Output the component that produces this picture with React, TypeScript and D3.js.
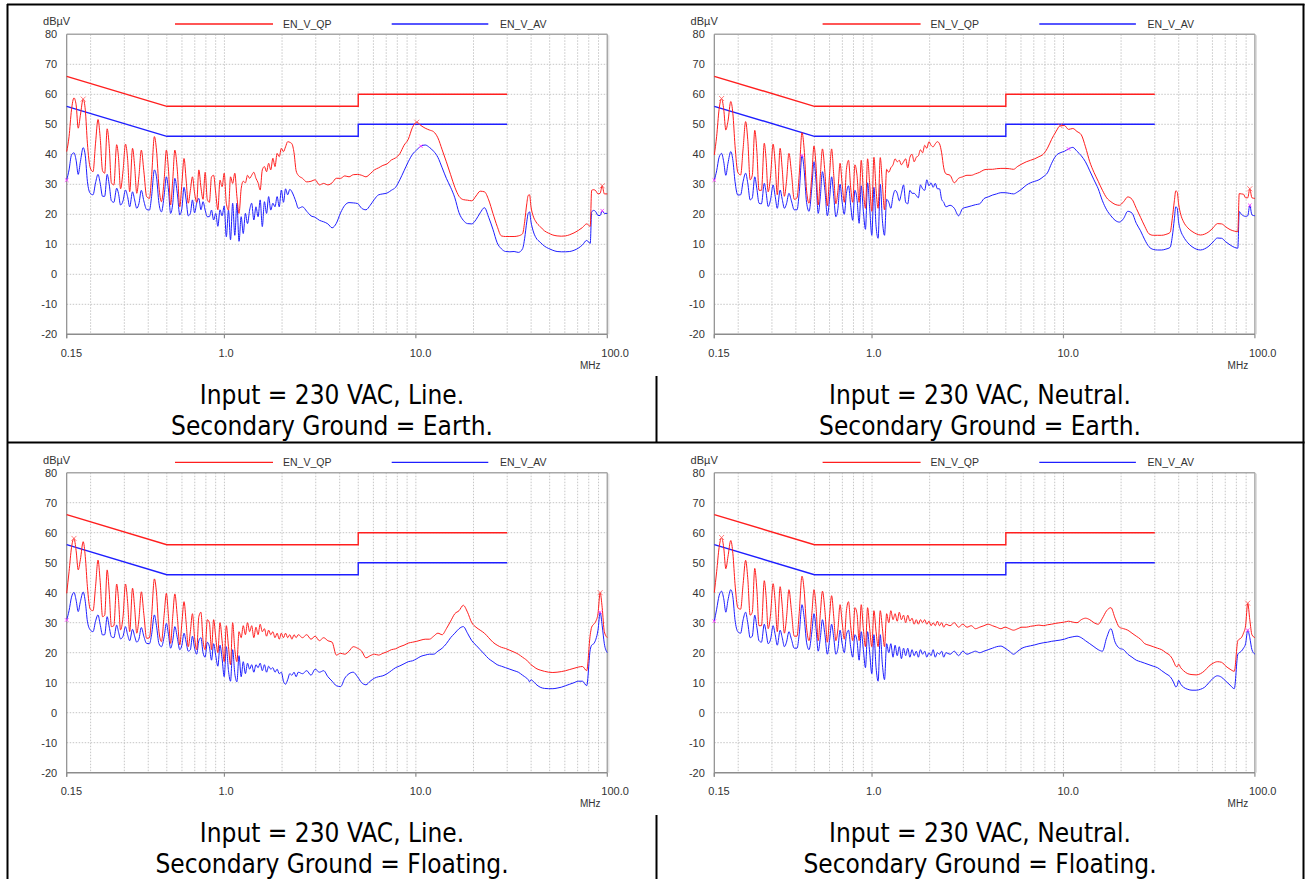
import React from "react";
import * as d3 from "d3";

// Shared frequency axis (MHz) for all measured traces
const FREQ_MHZ = [
  0.15, 0.1543, 0.1589, 0.1637, 0.168, 0.1723, 0.1768, 0.1829, 0.1876, 0.1924, 0.1991, 0.2059, 0.2122, 0.2186, 0.2242, 0.2309, 0.2369, 0.244, 0.2503, 0.2568, 0.2645, 0.2736, 0.2795, 0.2867, 0.2954, 0.3042, 0.312, 0.32, 0.3311, 0.3396, 0.3484, 0.3574, 0.3681, 0.3792, 0.3923, 0.4058, 0.4163, 0.4306, 0.4417, 0.455, 0.4688, 0.4849, 0.4974, 0.5102, 0.5234, 0.537, 0.5508, 0.5674, 0.5845, 0.5996, 0.6151, 0.631, 0.6473,
  0.6638, 0.6808, 0.6984, 0.7164, 0.735, 0.7538, 0.7733, 0.7931, 0.8137, 0.8346, 0.8562, 0.8782, 0.9009, 0.9241, 0.948, 0.9723, 0.9975, 1.023, 1.05, 1.076, 1.104, 1.133, 1.162, 1.192, 1.223, 1.254, 1.287, 1.32, 1.354, 1.388, 1.424, 1.461, 1.499, 1.537, 1.577, 1.618, 1.66, 1.702, 1.746, 1.791, 1.837, 1.885, 1.933, 1.983, 2.034, 2.086, 2.14, 2.195, 2.252, 2.31, 2.369, 2.431,
  2.557, 2.691, 2.831, 2.979, 3.134, 3.299, 3.47, 3.652, 3.842, 4.043, 4.254, 4.476, 4.71, 4.955, 5.214, 5.486, 5.773, 6.074, 6.391, 6.725, 7.076, 7.445, 7.834, 8.243, 8.674, 9.126, 9.605, 10.11, 10.63, 11.19, 11.77, 12.39, 13.03, 13.72, 14.43, 15.19, 15.98, 16.81, 17.69, 18.61, 19.59, 20.61, 21.68, 22.81, 24.01, 25.27, 26.59, 27.97, 29.43, 30.98, 32.59, 34.29, 36.08,
  37.01, 37.96, 38.61, 39.27, 39.94, 40.97, 42.39,
  44.6, 46.93, 49.37, 51.95, 54.66, 57.52, 60.52, 63.68, 67.0, 70.5, 74.18, 78.05, 81.44,
  82.84, 84.97, 87.17, 89.41, 91.72, 94.05, 96.49, 100,
];

// Top-left: Line, Earth
const TL_QP = [
  40.9, 45.9, 54.8, 58.8, 56.5, 48.7, 53.0, 58.4, 54.8, 43.7, 35.5, 34.2, 43.7, 51.6, 45.9, 34.5, 33.7, 48.5, 42.5, 30.5, 29.8, 43.2, 39.2, 28.5, 34.5, 43.4, 38.5, 27.5, 42.0, 36.0, 27.0, 32.5, 41.4, 34.5, 25.9, 25.3, 32.5, 45.9, 41.4, 29.2, 24.2, 32.0, 41.4, 34.8, 23.1, 31.4, 41.4, 34.8, 22.5, 30.3, 38.6, 31.4, 23.7,
  28, 32.5, 27, 24, 34.8, 29, 25, 34, 25, 24, 32.5, 33, 27, 21.5, 31.4, 29.2, 33.7, 23.7, 21.4, 32.5, 30.3, 33.7, 25.9, 20.3, 28.5, 31, 30.5, 33, 32, 33, 34, 32, 30.5, 28.1, 34.8, 35.9, 34.2, 37, 34.8, 38.7, 35.9, 40.3, 39.2, 42, 40.9, 42.5, 44.2, 44, 43.5, 40.5, 34.5, 33,
  32, 30.8, 31, 31.5, 29.8, 30.3, 29.8, 30.5, 32, 32, 32.8, 32.5, 33.2, 33.3, 33, 32.5, 33.5, 34.8, 35.5, 36.3, 36.8, 38.1, 38.8, 40.2, 43, 45, 49, 50.7, 49.6, 48.7, 48.1, 47.5, 45.5, 41.5, 37.5, 33.2, 29, 26, 24.9, 24.7, 24.5, 26.1, 27.7, 27.5, 24.8, 20.3, 16, 12.8, 12.6, 12.6, 12.6, 12.8, 13.5,
  17.5, 23.5, 26.3, 26.5, 22.5, 19.5, 17.5,
  15.9, 14.5, 13.7, 13.1, 12.8, 12.7, 12.8, 13.2, 13.8, 14.6, 15.6, 16.8, 16,
  28, 28.2, 27.8, 26.8, 27, 29.5, 26.8, 26.8,
];
const TL_AV = [
  31.4, 34.8, 39.8, 40.5, 38.0, 33.3, 37.5, 42.2, 39.5, 31.0, 27.0, 26.5, 30.5, 33.3, 30.5, 26.0, 26.0, 33.3, 29.8, 24.5, 24.0, 28.7, 27.0, 23.1, 24.5, 28.1, 25.9, 22.5, 27.5, 24.8, 22.0, 23.5, 28.0, 24.5, 21.6, 21.4, 25.9, 34.8, 32.5, 23.7, 20.8, 26.5, 32.5, 28.1, 20.3, 23.5, 32.0, 27.0, 19.8, 22.0, 29.0, 24.8, 19.5,
  20.3, 24.8, 20.5, 23.7, 25.3, 21.5, 24.2, 21.4, 19.2, 19.2, 21.4, 18.1, 20.3, 16.0, 21.5, 19.5, 22.8, 12.5, 21.4, 11.5, 23.7, 13.0, 23.7, 11.0, 19.2, 13.6, 20.3, 16.9, 21.4, 23.7, 18.1, 22.5, 19.2, 24.8, 15.9, 24.2, 20.3, 25.9, 21.4, 23.7, 22.5, 25.9, 22.5, 28.1, 24.0, 28.5, 26.5, 28.3, 27.5, 25.9, 24.0, 22.0,
  22.5, 21.0, 19.5, 19.0, 18.0, 17.5, 16.8, 15.5, 17.0, 20.5, 23.0, 23.9, 23.8, 23.6, 22.0, 21.5, 23.0, 25.0, 26.5, 26.8, 27.1, 28.0, 29.0, 31.5, 34.5, 37.5, 40.0, 41.5, 42.7, 43.1, 42.3, 41.0, 39.0, 35.5, 32.0, 29.0, 25.5, 20.5, 18.0, 16.9, 16.8, 18.2, 20.5, 22.2, 19.0, 15.0, 10.5, 8.5, 7.6, 7.5, 7.6, 7.3, 8.5,
  12.0, 17.5, 20.3, 20.8, 17.5, 14.5, 12.2,
  10.7, 9.4, 8.6, 8.0, 7.6, 7.5, 7.5, 7.6, 8.0, 8.7, 9.8, 11.3, 10.3,
  20.8, 21.3, 20.8, 19.6, 19.6, 21.2, 20.3, 20.3,
];

// Top-right: Neutral, Earth
const TR_QP = [
  39.8, 46, 55, 58.6, 55.0, 48.1, 51, 57.6, 53.5, 43, 34.0, 33.1, 42, 50.9, 45, 31.5, 33, 48, 41, 28, 28, 43.7, 38.5, 27.5, 33, 43.4, 37, 26.5, 42, 35, 26, 31, 40.3, 34, 25, 25.5, 33, 47.2, 42, 28, 23.7, 33, 42.8, 36, 23.1, 33, 41.8, 34, 22.8, 33, 41.8, 33, 23.5,
  28, 37, 30, 24, 35, 38, 29, 24, 36.5, 33, 24, 38, 28, 22, 38.5, 30, 21, 39, 28, 22, 38.9, 30, 21.5, 35, 34, 35.5, 36.5, 38.5, 37.5, 38, 36.5, 37.5, 38.5, 35.5, 39, 40, 37.5, 39, 39.5, 41.5, 40.5, 43, 42, 44.2, 43, 42.5, 43.5, 44.2, 43.5, 40.5, 35.5, 33.5,
  33, 30.5, 32, 32.5, 33, 33, 33.5, 34, 34.8, 35, 35, 35.2, 35.3, 35.3, 35.2, 35, 36, 36.8, 37.5, 38, 38.5, 39.2, 40, 42, 45, 47.5, 49.5, 49.6, 48.3, 48.6, 47.6, 46.5, 42.5, 37.5, 34.0, 31, 28.0, 25.5, 24.2, 23.3, 23.0, 24.2, 25.8, 25.0, 22.0, 19.0, 16.0, 13.5, 13.0, 13.0, 13.0, 13.3, 14.0,
  18.5, 24.5, 27.8, 27.5, 23.5, 20.0, 17.5,
  15.5, 14.3, 13.5, 13.1, 13.4, 14.2, 15.5, 16.9, 16.8, 15.8, 14.9, 14.4, 14.2,
  26.9, 26.8, 26.7, 25.5, 25.5, 28.5, 25.5, 25.3,
];
const TR_AV = [
  31.4, 34.5, 39, 40.3, 37.5, 33.0, 37.0, 40.9, 38, 31, 26.4, 26.5, 31, 33.7, 30.5, 24.8, 25.5, 32.5, 28.5, 23.7, 23.5, 30.3, 27.5, 22.6, 25, 29.8, 26, 22, 28.1, 25, 22, 23.5, 27, 24.5, 21.5, 21.5, 27, 39.6, 35, 24, 21, 29, 37.5, 31, 20.3, 26, 34.2, 28, 19.5, 25, 32.5, 26, 19.2,
  22, 30, 24, 20, 27, 29.5, 23, 18, 28, 25, 17, 29.5, 21, 15, 30.5, 22, 13, 29, 16, 12, 30, 18, 13, 25, 24, 22, 26, 28, 27, 24.5, 27, 29.8, 24, 23.5, 28, 27, 27, 26.3, 25.5, 29.8, 28.5, 28, 31.5, 29.5, 30.5, 29, 30.3, 28.5, 28.5, 25, 24, 22.5,
  23, 22, 19.5, 22, 22.4, 22.8, 23.2, 23.5, 25.2, 25.8, 26.4, 26.8, 27.2, 27.2, 27, 26.8, 27.5, 28.5, 29.7, 30.5, 31.0, 31.5, 32.5, 33.8, 37.0, 39.5, 40.5, 41.0, 41.8, 42.3, 41.0, 39.5, 37.5, 34.5, 31.5, 28.5, 24.5, 21.5, 19.5, 18.0, 17.4, 18.6, 21.0, 20.4, 17.0, 14.5, 11.5, 9.2, 8.3, 8.1, 8.1, 8.4, 9.0,
  12.5, 18.5, 22.5, 22.0, 17.5, 14.5, 12.5,
  10.5, 9.2, 8.4, 8.1, 8.5, 9.4, 10.8, 12.1, 12.0, 10.8, 9.8, 9.0, 8.7,
  20.9, 20.0, 19.5, 19.3, 19.5, 23.0, 19.8, 19.5,
];

// Bottom-left: Line, Floating
const BL_QP = [
  39.8, 47, 55, 58.1, 54, 47.6, 51, 57.0, 52, 42, 34.5, 34, 42, 50.9, 44, 32, 32.5, 47.6, 40, 28.7, 29, 42.9, 38, 27.6, 32, 42.9, 37, 27, 41.5, 35, 26.5, 31, 40.3, 33, 24.8, 25, 32, 44.6, 40, 27, 23.7, 33, 39.8, 32, 23.1, 32, 39.6, 32, 22.6, 30, 37, 30, 22,
  27, 33, 25, 21, 32, 33.5, 24, 21, 31, 30, 21, 31, 25, 20, 30, 24, 17, 29, 22, 16, 30, 21, 17, 27, 25, 29, 26, 30, 27, 29, 25, 28.5, 26, 29.5, 27, 28, 25.5, 27.5, 26, 27, 25, 26.5, 24.5, 26.5, 25, 26.5, 25, 26, 24.5, 26, 25, 26,
  25, 26, 24.5, 25.5, 24, 25, 24, 23.5, 19.2, 19.8, 19.5, 20.5, 22, 21.5, 20.5, 18.3, 19, 19.5, 19.2, 19.8, 20.3, 21, 21.3, 22, 22.5, 23.2, 23.5, 23.8, 24.2, 24.5, 24.5, 25.5, 26.5, 26, 28, 30.5, 33, 34, 35.8, 33.5, 30, 28.5, 27.5, 26.5, 25, 23.5, 22.5, 21.8, 21.4, 20.8, 20.2, 19.5, 18.5,
  18, 17.5, 17, 16.5, 16, 15.5, 14.8,
  14.2, 13.8, 13.5, 13.4, 13.5, 13.7, 14, 14.4, 14.8, 15.2, 15.4, 14, 26,
  28.5, 29.5, 30.5, 33, 40, 35, 27, 25,
];
const BL_AV = [
  30.9, 34, 38.5, 40.1, 37.5, 33.7, 37, 40.2, 37, 30.5, 27.6, 27, 30.5, 32.6, 29.5, 25.9, 26, 32, 28.5, 25.3, 25, 29.2, 27, 24.6, 25.5, 28.7, 26, 24, 27.8, 25.5, 23.5, 24.5, 28.4, 25.5, 23.1, 23, 26, 32.6, 29, 23, 22, 25.5, 29.8, 26, 21.5, 24, 28.7, 25, 21, 22.5, 26.5, 23.5, 20.5,
  21, 25.5, 21.5, 19.5, 24, 25, 20, 18.5, 23.5, 22, 17.5, 23, 19, 15.5, 22.5, 18, 12, 22, 14, 10.5, 21, 13, 10.3, 19, 12, 17, 13, 16.5, 14.5, 16, 13.5, 16, 15, 16.5, 14, 16, 13.5, 15.5, 14.5, 15, 13.5, 14.5, 13, 13.5, 10.5, 9.5, 11, 13, 12.5, 13.5, 12, 13.5,
  13, 14, 12.5, 14.5, 13.5, 14, 12, 10.5, 9, 8.7, 11.5, 13, 13.5, 12, 10, 9.3, 10.5, 11.5, 12, 12.3, 13, 14, 15, 15.6, 16.3, 17, 17.3, 18, 18.8, 19.2, 19.5, 19.5, 20.5, 21.5, 23, 25, 26.5, 28, 28.7, 26.5, 24, 22.5, 21, 19.5, 18, 17, 16, 15.5, 15, 14.5, 14, 13.5, 12.5,
  12, 11.5, 11, 10.3, 11, 10.5, 9.5,
  8.5, 8.1, 8, 8, 8.2, 8.5, 9, 9.5, 10, 10.5, 10.5, 9, 21,
  22.5, 23, 24.5, 27.5, 33.5, 29, 23, 20,
];

// Bottom-right: Neutral, Floating
const BR_QP = [
  40, 47, 55, 58.4, 55, 48, 52, 57.4, 53, 43, 35, 34.5, 43, 50.8, 45, 32.5, 33.5, 48.1, 41, 29, 29, 44, 39, 28, 33, 43, 37, 27, 42, 35.5, 26.5, 31.5, 41, 34, 25.5, 25.5, 33, 45.5, 41, 28.5, 24, 33, 41, 35, 24, 33, 40.5, 34, 23.5, 32, 39, 32, 24,
  28, 36, 30, 24.5, 34, 37, 29, 24, 35, 33, 24, 36, 28, 22, 35, 28, 22, 34, 27, 22, 34, 28, 22, 33, 30, 34, 31, 33, 30.5, 33.5, 31, 32.5, 30, 32.5, 30.5, 31.5, 29.5, 31, 29.5, 31, 30, 31, 29.5, 30.5, 29, 30, 29, 30.5, 29, 30, 28.5, 29.5,
  29, 30, 28.5, 29.5, 28.5, 29, 28, 28.5, 29, 29.5, 29, 28.5, 28, 28.5, 28, 27.5, 28, 28.5, 28.5, 28.8, 29, 29.2, 29, 29.3, 29.5, 29.8, 30, 30.2, 30.5, 30.2, 30, 31, 31.5, 31, 30, 29.5, 31.5, 34, 35, 31.5, 28.5, 28, 27.5, 26.5, 25.5, 24.5, 23, 22.5, 22, 21.5, 21, 20, 19,
  18, 16.5, 15.5, 15.3, 16.2, 15, 14,
  13, 12.7, 12.6, 13, 14, 15.5, 16.5, 17, 16.8, 15.5, 14.5, 13.8, 24,
  24.5, 25, 26.5, 29, 36.5, 31, 26, 25,
];
const BR_AV = [
  30.5, 34.5, 39, 40.5, 38.0, 33.5, 37.5, 41, 38.5, 31, 27, 26.5, 31, 33.5, 30, 25, 25.5, 32.5, 28.5, 24, 23.5, 29.5, 27, 23, 24.5, 29, 26, 22.5, 27.5, 25, 22, 23.5, 27, 24.5, 21.5, 21.5, 26, 36, 32, 23.5, 21, 27, 33, 28, 20.5, 25, 31, 26, 19.5, 24, 29.5, 25, 19.5,
  21.5, 27.5, 23, 20, 26, 27.5, 22, 18.5, 26, 24, 17.5, 27, 21, 15, 27, 20, 13, 26, 15, 10.5, 26, 16, 11, 23, 20, 23, 18.5, 22.5, 19, 22, 18, 21.5, 19, 21.5, 18.5, 21, 19, 20.5, 18.5, 21, 19.5, 20.5, 18.5, 20, 19, 21, 18.5, 20, 19.5, 20.5, 18.5, 20,
  19.5, 20.5, 19, 20.5, 19.5, 20, 20.5, 20, 20.5, 21, 21.5, 22, 22.2, 21.5, 20.5, 19.5, 20.5, 21.5, 22, 22.3, 22.6, 23, 23.3, 23.5, 23.8, 24, 24.2, 24.5, 25, 25.3, 25.5, 25, 24, 23, 22, 21, 20.5, 25, 28, 23.5, 21.5, 21, 19.5, 18.5, 17.5, 17, 16.5, 16, 15.5, 15, 14, 13, 12,
  11, 9.5, 8.6, 9, 10.8, 9.5, 8.5,
  7.8, 7.5, 7.5, 7.8, 8.5, 10, 11.5, 12.3, 11.8, 10.5, 9.2, 8, 19.5,
  20, 20.5, 21.5, 23, 27.5, 25, 21, 19.5,
];

// Detector marker frequencies (MHz) on each panel
const QP_MARK_F = [[0.1829, 10.11, 94.05], [0.1637, 9.605, 94.05], [0.1637, 91.72], [0.1637, 91.72]];
const AV_MARK_F = [[0.15, 10.63, 94.05], [0.15, 0.4306, 10.63, 94.05], [0.15, 91.72], [0.15, 91.72]];

// EN 55022 class B limits
const LIMIT_F = [0.15, 0.5, 5, 5, 30];
const QP_LIMIT = [66, 56, 56, 60, 60];
const AV_LIMIT = [56, 46, 46, 50, 50];

const Y_TICKS = [80, 70, 60, 50, 40, 30, 20, 10, 0, -10, -20];
const X_TICK_F = [0.15, 1, 10, 100];
const X_TICK_LABELS = ["0.15", "1.0", "10.0", "100.0"];
const LEGEND_LABELS = ["EN_V_QP", "EN_V_AV"];
const Y_UNIT = "dBµV";
const X_UNIT = "MHz";

const CAPTION_1 = ["Input = 230 VAC, Line.", "Input = 230 VAC, Neutral.", "Input = 230 VAC, Line.", "Input = 230 VAC, Neutral."];
const CAPTION_2 = ["Secondary Ground = Earth.", "Secondary Ground = Earth.", "Secondary Ground = Floating.", "Secondary Ground = Floating."];

const QP_SERIES = [TL_QP, TR_QP, BL_QP, BR_QP];
const AV_SERIES = [TL_AV, TR_AV, BL_AV, BR_AV];

// layout
const PLOT_W = 540.6;
const PLOT_H = 300;
const COL_X = [66.7, 714.3];
const ROW_Y = [34.3, 472.7];
const COL_CENTER = [332, 980];
const RED = "#ff1e1e";
const BLUE = "#1e1eff";
const FONT = "'Liberation Sans', Arial, sans-serif";
const CAP_FONT = "'DejaVu Sans Condensed', 'DejaVu Sans', sans-serif";

function nearestIndex(f: number) {
  let best = 0;
  for (let i = 1; i < FREQ_MHZ.length; i++) {
    if (Math.abs(Math.log(FREQ_MHZ[i] / f)) < Math.abs(Math.log(FREQ_MHZ[best] / f))) best = i;
  }
  return best;
}

function Panel({ idx }: { idx: number }) {
  const col = idx % 2;
  const row = Math.floor(idx / 2);
  const x0 = COL_X[col];
  const y0 = ROW_Y[row];
  const x = d3.scaleLog().domain([0.15, 100]).range([0, PLOT_W]);
  const y = d3.scaleLinear().domain([-20, 80]).range([PLOT_H, 0]);

  const gridF: number[] = [];
  [0.1, 1, 10].forEach((dec) => {
    for (let m = 1; m <= 9; m++) {
      const f = +(m * dec).toFixed(4);
      if (f > 0.15 && f < 100) gridF.push(f);
    }
  });

  const traceGen = d3.line().curve(d3.curveMonotoneX);
  const trace = (vals: number[]) => {
    const n = Math.min(vals.length, FREQ_MHZ.length);
    const pts: [number, number][] = [];
    for (let i = 0; i < n; i++) pts.push([x(FREQ_MHZ[i]), y(vals[i])]);
    return traceGen(pts) || "";
  };
  const limit = (vals: number[]) =>
    d3.line()(LIMIT_F.map((f, i) => [x(f), y(vals[i])] as [number, number])) || "";

  const qp = QP_SERIES[idx];
  const av = AV_SERIES[idx];

  return (
    <g transform={`translate(${x0},${y0})`}>
      {gridF.map((f) => (
        <line key={"gx" + f} x1={x(f)} x2={x(f)} y1={0} y2={PLOT_H} stroke="#c6c6c6" strokeWidth={1} strokeDasharray="1.5,1.5" />
      ))}
      {Y_TICKS.filter((t) => t > -20 && t < 80).map((t) => (
        <line key={"gy" + t} x1={0} x2={PLOT_W} y1={y(t)} y2={y(t)} stroke="#c6c6c6" strokeWidth={1} strokeDasharray="1.5,1.5" />
      ))}
      <line x1={0} x2={PLOT_W} y1={0} y2={0} stroke="#a8a8a8" strokeWidth={1.5} />
      <line x1={PLOT_W} x2={PLOT_W} y1={0} y2={PLOT_H} stroke="#a8a8a8" strokeWidth={1.5} />
      <line x1={PLOT_W + 1.5} x2={PLOT_W + 1.5} y1={1} y2={PLOT_H} stroke="#dcdcdc" strokeWidth={1} />
      <line x1={0} x2={0} y1={0} y2={PLOT_H + 4} stroke="#8c8c8c" strokeWidth={1.2} />
      <line x1={0} x2={PLOT_W} y1={PLOT_H} y2={PLOT_H} stroke="#8c8c8c" strokeWidth={1.5} />
      {X_TICK_F.map((f) => (
        <line key={"tk" + f} x1={x(f)} x2={x(f)} y1={PLOT_H} y2={PLOT_H + 4} stroke="#8c8c8c" strokeWidth={1.2} />
      ))}
      {Y_TICKS.map((t) => (
        <text key={"yl" + t} x={-9.5} y={y(t) + 4} textAnchor="end" fontFamily={FONT} fontSize={11} fill="#333">
          {t}
        </text>
      ))}
      <text x={-23.7} y={-9} fontFamily={FONT} fontSize={11} fill="#333">{Y_UNIT}</text>
      {X_TICK_F.map((f, i) => (
        <text key={"xl" + f} x={x(f) - 6} y={PLOT_H + 22.5} fontFamily={FONT} fontSize={11} fill="#333">
          {X_TICK_LABELS[i]}
        </text>
      ))}
      <text x={PLOT_W - 27.3} y={PLOT_H + 34.7} fontFamily={FONT} fontSize={10} fill="#333">{X_UNIT}</text>
      <line x1={108.3} x2={206.3} y1={-10.3} y2={-10.3} stroke={RED} strokeWidth={1.3} />
      <text x={216.3} y={-6.3} fontFamily={FONT} fontSize={10.5} fill="#333">{LEGEND_LABELS[0]}</text>
      <line x1={325} x2={421.6} y1={-10.3} y2={-10.3} stroke={BLUE} strokeWidth={1.3} />
      <text x={433.3} y={-6.3} fontFamily={FONT} fontSize={10.5} fill="#333">{LEGEND_LABELS[1]}</text>
      <path d={limit(QP_LIMIT)} fill="none" stroke={RED} strokeWidth={1.4} />
      <path d={limit(AV_LIMIT)} fill="none" stroke={BLUE} strokeWidth={1.4} />
      <path d={trace(av)} fill="none" stroke={BLUE} strokeWidth={1} strokeLinejoin="round" />
      <path d={trace(qp)} fill="none" stroke={RED} strokeWidth={1} strokeLinejoin="round" />
      {QP_MARK_F[idx].map((f) => {
        const i = nearestIndex(f);
        const px = x(FREQ_MHZ[i]);
        const py = y(qp[i]);
        return (
          <g key={"mq" + f} stroke="#ff6060" strokeWidth={0.8}>
            <line x1={px - 2.5} x2={px + 2.5} y1={py - 2.5} y2={py + 2.5} />
            <line x1={px - 2.5} x2={px + 2.5} y1={py + 2.5} y2={py - 2.5} />
          </g>
        );
      })}
      {AV_MARK_F[idx].map((f) => {
        const i = nearestIndex(f);
        const px = x(FREQ_MHZ[i]);
        const py = y(av[i]);
        return (
          <g key={"ma" + f} stroke="#ff40ff" strokeWidth={0.9}>
            <line x1={px - 1.8} x2={px + 1.8} y1={py - 1.8} y2={py + 1.8} />
            <line x1={px - 1.8} x2={px + 1.8} y1={py + 1.8} y2={py - 1.8} />
          </g>
        );
      })}
    </g>
  );
}

function Caption({ idx }: { idx: number }) {
  const col = idx % 2;
  const row = Math.floor(idx / 2);
  const cx = COL_CENTER[col];
  const base = row === 0 ? 404 : 842.4;
  return (
    <g>
      <text x={cx} y={base} textAnchor="middle" fontFamily={CAP_FONT} fontSize={26} fill="#000">
        {CAPTION_1[idx]}
      </text>
      <text x={cx} y={base + 31} textAnchor="middle" fontFamily={CAP_FONT} fontSize={26} fill="#000">
        {CAPTION_2[idx]}
      </text>
    </g>
  );
}

export default function App() {
  return (
    <div style={{ position: "absolute", left: 0, top: 0, width: 1310, height: 879, background: "#fff" }}>
      <svg width={1310} height={879} viewBox="0 0 1310 879" style={{ display: "block" }}>
        <rect x={0} y={0} width={1310} height={879} fill="#fff" />
        {[0, 1, 2, 3].map((i) => (
          <Panel key={i} idx={i} />
        ))}
        {[0, 1, 2, 3].map((i) => (
          <Caption key={"c" + i} idx={i} />
        ))}
        <line x1={7} x2={1304.5} y1={4.5} y2={4.5} stroke="#000" strokeWidth={2} />
        <line x1={7.5} x2={7.5} y1={4} y2={879} stroke="#000" strokeWidth={2} />
        <line x1={1303.5} x2={1303.5} y1={4} y2={879} stroke="#000" strokeWidth={2} />
        <line x1={7} x2={1304.5} y1={442.5} y2={442.5} stroke="#000" strokeWidth={2} />
        <line x1={656.5} x2={656.5} y1={376} y2={442.5} stroke="#000" strokeWidth={2} />
        <line x1={656.5} x2={656.5} y1={815} y2={879} stroke="#000" strokeWidth={2} />
      </svg>
    </div>
  );
}
